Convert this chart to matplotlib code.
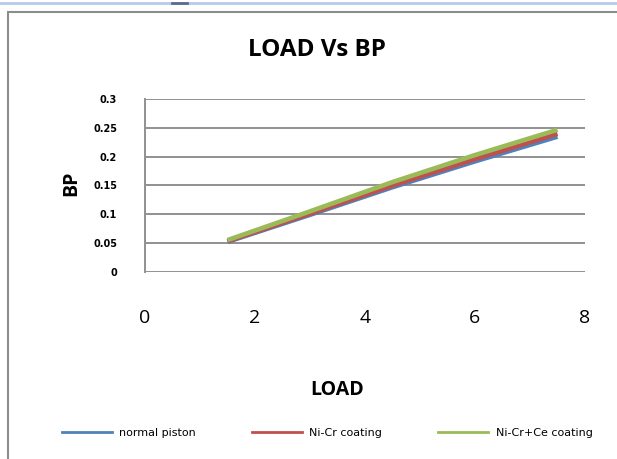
import matplotlib.pyplot as plt
from matplotlib.lines import Line2D
from matplotlib.patches import Rectangle

# --------------------------------------------------
# Data
# --------------------------------------------------

load = [1.5, 3, 4.5, 6, 7.5]

bp_normal = [0.052, 0.099, 0.147, 0.192, 0.235]
bp_nicr = [0.053, 0.101, 0.150, 0.196, 0.240]
bp_nicr_ce = [0.055, 0.105, 0.156, 0.203, 0.247]

series_names = ["normal piston", "Ni-Cr coating", "Ni-Cr+Ce coating"]
series_colors = ["#4F81BD", "#C0504D", "#9BBB59"]

x_ticks = [0, 2, 4, 6, 8]
y_ticks = [0, 0.05, 0.1, 0.15, 0.2, 0.25, 0.3]

# --------------------------------------------------
# Figure
# --------------------------------------------------

plt.rcParams["font.family"] = ["Open Sans", "DejaVu Sans"]

W, H = 617, 459
fig = plt.figure(figsize=(W / 100, H / 100), dpi=100)

# chart frame + window edge
fig.add_artist(Line2D([0, 1], [1 - 3 / H, 1 - 3 / H], color="#B4CBEA", lw=2))
fig.add_artist(Line2D([172 / W, 187 / W], [1 - 3 / H, 1 - 3 / H], color="#5A6E8C", lw=2))
fig.add_artist(Rectangle((8 / W, -0.05), 1.2, 1.05 - 12 / H,
                         transform=fig.transFigure, fill=False,
                         edgecolor="#8C8C8C", lw=1.5))

ax = fig.add_axes([145 / W, 1 - 271.7 / H, 440 / W, 172.4 / H])

for values, name, color in zip(
    [bp_normal, bp_nicr, bp_nicr_ce], series_names, series_colors
):
    ax.plot(load, values, color=color, lw=3.3, label=name,
            solid_capstyle="butt")

ax.set_xlim(0, 8)
ax.set_ylim(0, 0.3)
ax.set_xticks(x_ticks)
ax.set_yticks(y_ticks)
ax.set_yticklabels([f"{v:g}" for v in y_ticks], fontsize=7,
                   fontweight="bold", family="DejaVu Sans")
ax.set_xticklabels([str(v) for v in x_ticks], fontsize=14)
ax.tick_params(axis="x", length=0, pad=27)
ax.tick_params(axis="y", length=0, pad=20)

ax.grid(axis="y", color="#909090", lw=1.4)
ax.set_axisbelow(True)
for side in ["top", "right", "bottom"]:
    ax.spines[side].set_visible(False)
ax.spines["left"].set_color("#909090")
ax.spines["left"].set_linewidth(1.4)

fig.text(317 / W, 1 - 50 / H, "LOAD Vs BP", ha="center", va="center",
         fontsize=17.5, fontweight="bold")
fig.text(71 / W, 1 - 183 / H, "BP", ha="center", va="center",
         rotation=90, fontsize=14, fontweight="bold")
fig.text(337 / W, 1 - 390 / H, "LOAD", ha="center", va="center",
         fontsize=14, fontweight="bold")

handles = [Line2D([], [], color=c, lw=2) for c in series_colors]
fig.legend(handles, series_names, loc="center",
           bbox_to_anchor=(327 / W, 1 - 433 / H), ncol=3,
           frameon=False, prop={"family": "DejaVu Sans", "size": 8},
           handlelength=4.5, columnspacing=5.0, handletextpad=0.7)

plt.savefig("out.png", dpi=100)
plt.close()
